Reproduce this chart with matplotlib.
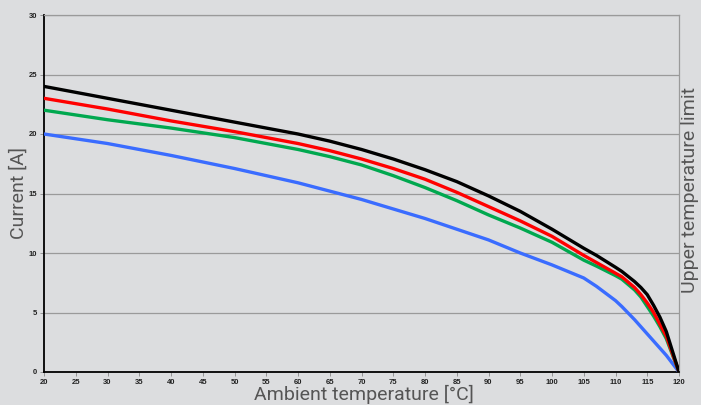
import matplotlib
matplotlib.use("Agg")
import matplotlib.pyplot as plt
import numpy as np

temp = [20, 30, 40, 50, 60, 65, 70, 75, 80, 85, 90, 95, 100, 105, 107, 110, 111, 113, 114, 115, 116, 117, 118, 120]
black = [24.0, 23.0, 22.0, 21.0, 20.0, 19.4, 18.7, 17.9, 17.0, 16.0, 14.8, 13.5, 12.0, 10.4, 9.8, 8.8, 8.45, 7.6, 7.1, 6.5, 5.6, 4.6, 3.4, 0.0]
red = [23.0, 22.1, 21.1, 20.2, 19.2, 18.6, 17.9, 17.1, 16.2, 15.1, 13.9, 12.7, 11.4, 9.8, 9.2, 8.3, 8.0, 7.1, 6.5, 5.8, 5.0, 4.0, 3.0, 0.0]
green = [22.0, 21.2, 20.5, 19.7, 18.7, 18.1, 17.4, 16.5, 15.5, 14.4, 13.2, 12.1, 10.9, 9.4, 8.9, 8.1, 7.8, 6.9, 6.3, 5.5, 4.7, 3.8, 2.8, 0.0]
blue = [20.0, 19.2, 18.2, 17.1, 15.9, 15.2, 14.5, 13.7, 12.9, 12.0, 11.1, 10.0, 9.0, 7.9, 7.2, 6.0, 5.5, 4.4, 3.8, 3.2, 2.6, 2.0, 1.4, 0.0]

xticks = list(range(20, 121, 5))
yticks = [0, 5, 10, 15, 20, 25, 30]

bg = "#dcdddf"
fig = plt.figure(figsize=(7.01, 4.05), dpi=100, facecolor=bg)
ax = fig.add_axes([44/701, 1-372/405, 635/701, 357/405], facecolor=bg)

for vals, col in [(blue, "#3a6cff"), (green, "#00a84f"), (red, "#ff0000"), (black, "#000000")]:
    ax.plot(temp, vals, color=col, lw=2.4, solid_capstyle="round", solid_joinstyle="round", zorder=3)

ax.set_xlim(20, 120)
ax.set_ylim(0, 30)
ax.set_xticks(xticks)
ax.set_yticks(yticks)
ax.set_xticklabels([str(t) for t in xticks], fontsize=5.5, fontweight="bold", family="Liberation Sans", color="#222222")
ax.set_yticklabels([str(t) for t in yticks], fontsize=5.5, fontweight="bold", family="Liberation Sans", color="#222222")
ax.tick_params(axis="both", length=3, width=0.6, color="#888888", pad=2)
ax.grid(axis="y", color="#9a9a9a", lw=0.9)
ax.set_axisbelow(True)

ax.spines["left"].set_color("black")
ax.spines["left"].set_linewidth(1.3)
ax.spines["bottom"].set_color("black")
ax.spines["bottom"].set_linewidth(1.3)
ax.spines["right"].set_color("#9a9a9a")
ax.spines["right"].set_linewidth(0.9)
ax.spines["top"].set_color("#9a9a9a")
ax.spines["top"].set_linewidth(0.9)

lab = dict(fontsize=14, family="Roboto", fontweight="normal", color="#555555")
fig.text(364/701, 1-394/405, "Ambient temperature [°C]", ha="center", va="center", **lab)
fig.text(19/701, 1-193/405, "Current [A]", ha="center", va="center", rotation=90, **lab)
fig.text(690/701, 1-190/405, "Upper temperature limit", ha="center", va="center", rotation=90, **lab)

fig.savefig("out.png", dpi=100, facecolor=bg)
